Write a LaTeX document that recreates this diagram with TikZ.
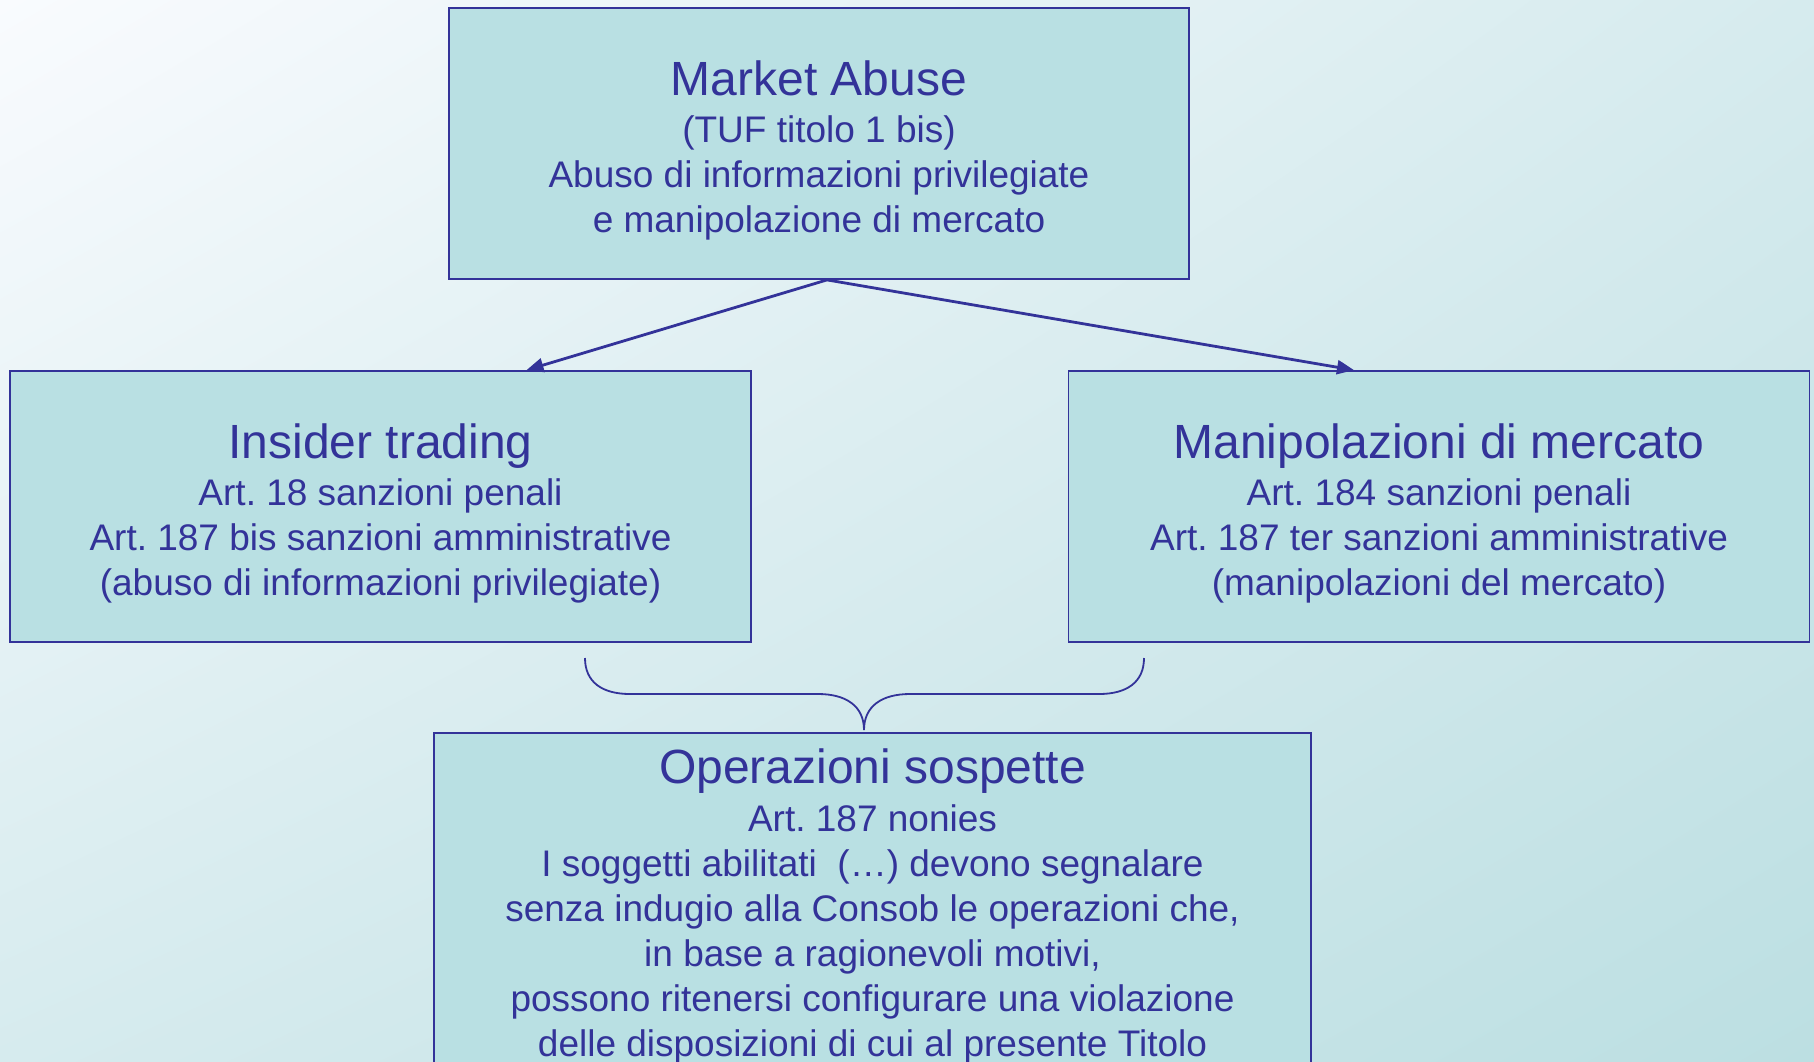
\documentclass[tikz,border=0pt]{standalone}
\usepackage{fontspec}
\setmainfont{Liberation Sans}
\usetikzlibrary{arrows.meta,shadings}
\frenchspacing
\definecolor{ink}{HTML}{333399}
\definecolor{boxfill}{HTML}{B9E0E3}
\definecolor{bgA}{HTML}{F9FBFE}
\definecolor{bgB}{HTML}{D6EBEE}
\definecolor{bgC}{HTML}{BCDFE2}
\tikzset{
  card/.style={draw=ink, line width=1.8pt, fill=boxfill, text=ink, align=center,
    inner sep=0pt, font=\fontsize{37}{45}\selectfont\frenchspacing},
  link/.style={draw=ink, line width=2.8pt, -{Triangle[length=17pt,width=14pt]}},
  bracepath/.style={draw=ink, line width=1.8pt}
}
\newcommand{\ttl}{\fontsize{48}{48}\selectfont}
\newcommand{\lift}{\rule{0pt}{48pt}}
\begin{document}
\begin{tikzpicture}[x=1pt,y=-1pt]
\useasboundingbox (0,0) rectangle (1814,1061);
\clip (0,0) rectangle (1814,1061);
\shade[upper left=bgA, upper right=bgB, lower left=bgB, lower right=bgC] (0,0) rectangle (1814,1061);

\node[card, minimum width=740pt, minimum height=271pt] (top) at (819,143.5)
  {{\ttl\lift Market Abuse}\\[2pt] (TUF titolo 1 bis)\\ Abuso di informazioni privilegiate\\ e manipolazione di mercato};
\node[card, minimum width=741pt, minimum height=271pt] (left) at (380.5,506.5)
  {{\ttl\lift Insider trading}\\[2pt] Art. 18 sanzioni penali\\ Art. 187 bis sanzioni amministrative\\ (abuso di informazioni privilegiate)};
\node[card, minimum width=741pt, minimum height=271pt] (right) at (1439,506.5)
  {{\ttl\lift Manipolazioni di mercato}\\[2pt] Art. 184 sanzioni penali\\ Art. 187 ter sanzioni amministrative\\ (manipolazioni del mercato)};
\node[card, minimum width=877pt, anchor=north, inner ysep=16pt] (bottom) at (872.5,732)
  {{\ttl Operazioni sospette}\\[3pt] Art. 187 nonies\\ I soggetti abilitati~ (…) devono segnalare\\ senza indugio alla Consob le operazioni che,\\ in base a ragionevoli motivi,\\ possono ritenersi configurare una violazione\\ delle disposizioni di cui al presente Titolo\\ \strut};

\draw[link] ([xshift=8pt]top.south) -- ([xshift=146pt]left.north);
\draw[link] ([xshift=8pt]top.south) -- ([xshift=-85pt]right.north);

\coordinate (bl) at (585,658);
\coordinate (br) at (1144,658);
\coordinate (btip) at ([xshift=-8.5pt,yshift=2pt]bottom.north);
\draw[bracepath] (bl) .. controls (585,682) and (602,694) .. (630,694) -- (818,694)
  .. controls (846,694) and (864,706) .. (btip)
  .. controls (864,706) and (882,694) .. (910,694) -- (1099,694)
  .. controls (1127,694) and (1144,682) .. (br);
\end{tikzpicture}
\end{document}
